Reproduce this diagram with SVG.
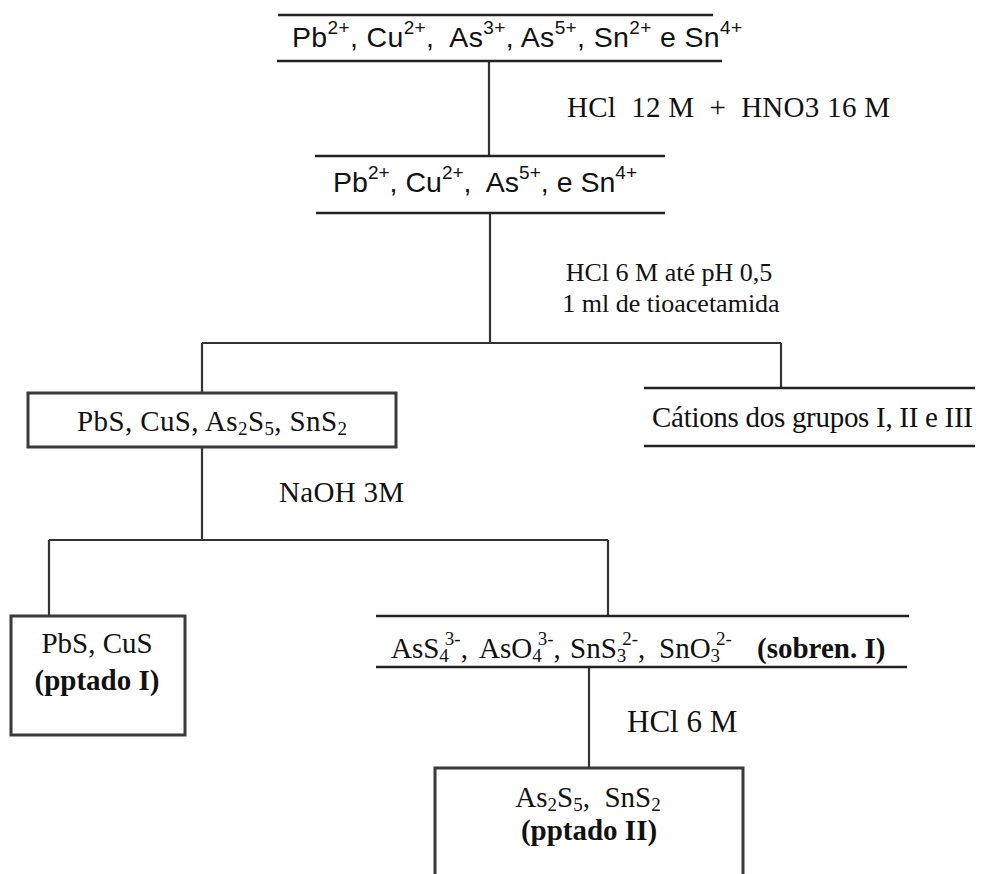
<svg xmlns="http://www.w3.org/2000/svg" width="988" height="874" viewBox="0 0 988 874">
  <style>
    .sans { font-family: "Liberation Sans", Arial, sans-serif; font-size: 28.5px; fill: #111; }
    .serif { font-family: "Liberation Serif", "Times New Roman", serif; font-size: 29px; fill: #111; }
    .note { font-size: 26px; }
    .big { font-size: 31px; }
    .bold { font-weight: bold; }
    .sup { font-size: 19px; }
    .sub { font-size: 19px; }
    .rule { stroke: #222; stroke-width: 2.5; fill: none; }
    .box { stroke: #3a3a3a; stroke-width: 3; fill: none; }
    .wire { stroke: #333; stroke-width: 2.2; fill: none; }
  </style>
  <rect width="988" height="874" fill="#fff"/>

  <!-- connectors and reagent labels -->
  <g id="connectors">
    <line class="wire" x1="489" y1="61" x2="489" y2="156"/>
    <line class="wire" x1="490" y1="213" x2="490" y2="343"/>
    <line class="wire" x1="202" y1="343" x2="781" y2="343"/>
    <line class="wire" x1="202" y1="343" x2="202" y2="393"/>
    <line class="wire" x1="781" y1="343" x2="781" y2="388"/>
    <line class="wire" x1="202" y1="447" x2="202" y2="540"/>
    <line class="wire" x1="49" y1="540" x2="608" y2="540"/>
    <line class="wire" x1="49" y1="540" x2="49" y2="616"/>
    <line class="wire" x1="608" y1="540" x2="608" y2="616"/>
    <line class="wire" x1="589" y1="667" x2="589" y2="768"/>
    <text class="serif" x="567" y="117" textLength="323" lengthAdjust="spacing" xml:space="preserve">HCl  12 M  +  HNO3 16 M</text>
    <text class="serif note" x="669" y="281" text-anchor="middle">HCl 6 M até pH 0,5</text>
    <text class="serif note" x="671" y="312" text-anchor="middle">1 ml de tioacetamida</text>
    <text class="serif" x="279" y="502" textLength="125" lengthAdjust="spacing">NaOH 3M</text>
    <text class="serif big" x="627" y="732">HCl 6 M</text>
  </g>

  <!-- starting solution -->
  <g id="node-start">
    <line class="rule" x1="278" y1="15" x2="713" y2="15"/>
    <line class="rule" x1="277" y1="61" x2="722" y2="61"/>
    <text class="sans" x="292" y="47" textLength="450" lengthAdjust="spacing" xml:space="preserve">Pb<tspan class="sup" dy="-13">2+</tspan><tspan dy="13">, Cu</tspan><tspan class="sup" dy="-13">2+</tspan><tspan dy="13">,  As</tspan><tspan class="sup" dy="-13">3+</tspan><tspan dy="13">, As</tspan><tspan class="sup" dy="-13">5+</tspan><tspan dy="13">, Sn</tspan><tspan class="sup" dy="-13">2+</tspan><tspan dy="13"> e Sn</tspan><tspan class="sup" dy="-13">4+</tspan></text>
  </g>

  <!-- oxidised solution -->
  <g id="node-oxidised">
    <line class="rule" x1="315" y1="156" x2="665" y2="156"/>
    <line class="rule" x1="316" y1="213" x2="665" y2="213"/>
    <text class="sans" x="333" y="192" textLength="304" lengthAdjust="spacing" xml:space="preserve">Pb<tspan class="sup" dy="-13">2+</tspan><tspan dy="13">, Cu</tspan><tspan class="sup" dy="-13">2+</tspan><tspan dy="13">,  As</tspan><tspan class="sup" dy="-13">5+</tspan><tspan dy="13">, e Sn</tspan><tspan class="sup" dy="-13">4+</tspan></text>
  </g>

  <!-- sulfide precipitate -->
  <g id="node-sulfides">
    <rect class="box" x="28" y="393" width="368" height="54"/>
    <text class="serif" x="77" y="431" textLength="270" lengthAdjust="spacing">PbS, CuS, As<tspan class="sub" dy="4">2</tspan><tspan dy="-4">S</tspan><tspan class="sub" dy="4">5</tspan><tspan dy="-4">, SnS</tspan><tspan class="sub" dy="4">2</tspan></text>
  </g>

  <!-- remaining cations -->
  <g id="node-cations">
    <line class="rule" x1="644" y1="388" x2="975" y2="388"/>
    <line class="rule" x1="644" y1="446" x2="975" y2="446"/>
    <text class="serif" x="652" y="427" textLength="321" lengthAdjust="spacing">Cátions dos grupos I, II e III</text>
  </g>

  <!-- precipitate I -->
  <g id="node-pptado-1">
    <rect class="box" x="11" y="616" width="174" height="119"/>
    <text class="serif" x="97" y="653" text-anchor="middle">PbS, CuS</text>
    <text class="serif bold" x="97" y="690" text-anchor="middle">(pptado I)</text>
  </g>

  <!-- supernatant I: sub- and superscripts are stacked -->
  <g id="node-sobren-1">
    <line class="rule" x1="376" y1="616" x2="909" y2="616"/>
    <line class="rule" x1="376" y1="667" x2="907" y2="667"/>
    <text class="serif" x="391" y="658">AsS<tspan class="sub" dy="4">4</tspan><tspan class="sub" dx="-4" dy="-17">3-</tspan><tspan dy="13">,</tspan><tspan x="479">AsO</tspan><tspan class="sub" dy="4">4</tspan><tspan class="sub" dx="-4" dy="-17">3-</tspan><tspan dy="13">,</tspan><tspan x="570">SnS</tspan><tspan class="sub" dy="4">3</tspan><tspan class="sub" dx="-4" dy="-17">2-</tspan><tspan dy="13">,</tspan><tspan x="659">SnO</tspan><tspan class="sub" dy="4">3</tspan><tspan class="sub" dx="-4" dy="-17">2-</tspan><tspan class="bold" x="757" dy="13">(sobren. I)</tspan></text>
  </g>

  <!-- precipitate II -->
  <g id="node-pptado-2">
    <rect class="box" x="435" y="768" width="308" height="130"/>
    <text class="serif" x="588" y="807" text-anchor="middle" xml:space="preserve">As<tspan class="sub" dy="4">2</tspan><tspan dy="-4">S</tspan><tspan class="sub" dy="4">5</tspan><tspan dy="-4">,  SnS</tspan><tspan class="sub" dy="4">2</tspan></text>
    <text class="serif bold" x="589" y="840" text-anchor="middle">(pptado II)</text>
  </g>
</svg>
